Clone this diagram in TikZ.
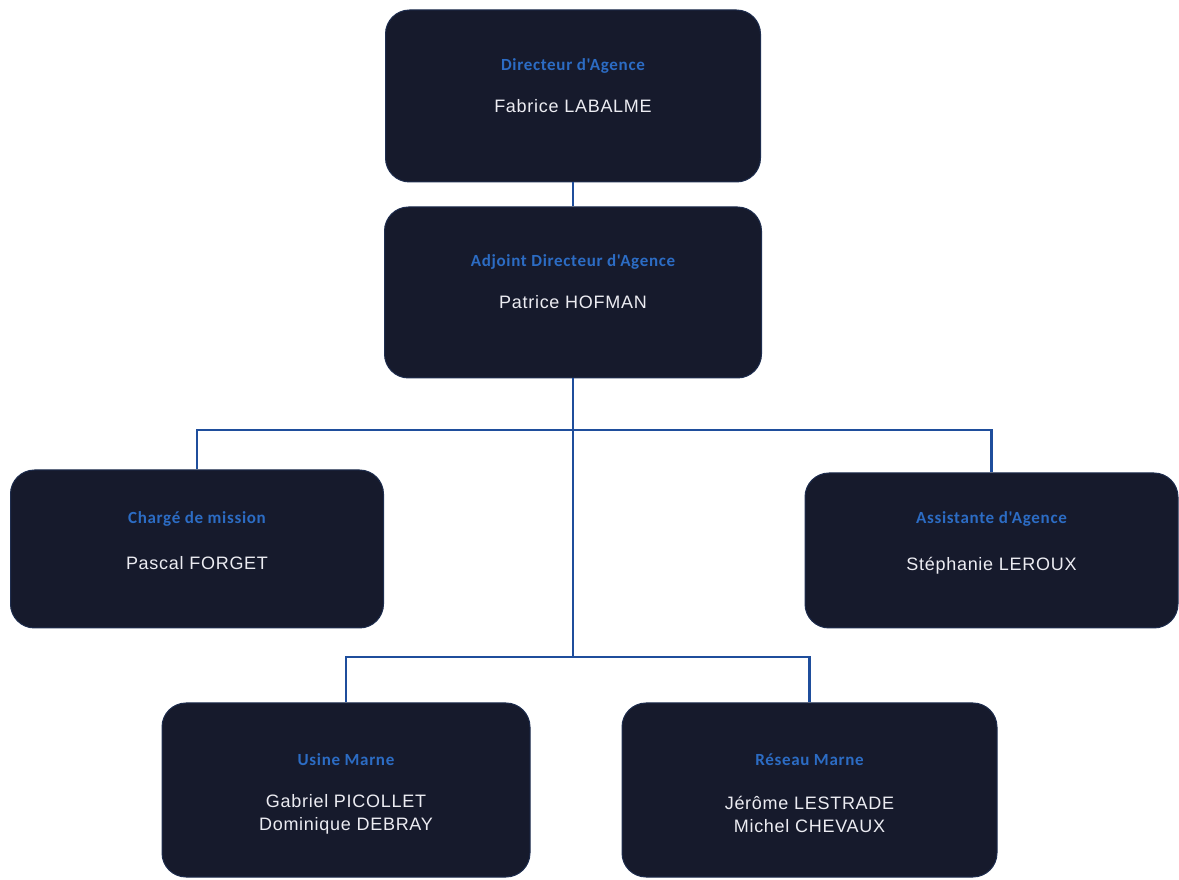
\documentclass[tikz,border=0pt]{standalone}
\usepackage{fontspec}
\setmainfont{Liberation Sans}[LetterSpace=4]
\newfontfamily\rolefont{Carlito}[LetterSpace=4]
\usetikzlibrary{positioning}
\definecolor{boxfill}{HTML}{161A2C}
\definecolor{boxline}{HTML}{1E2D4E}
\definecolor{rolecol}{HTML}{2C6CC4}
\definecolor{linkcol}{HTML}{1F4E9C}
\definecolor{namecol}{HTML}{ECECF2}
\tikzset{
  orgbox/.style={rectangle, rounded corners=24pt, fill=boxfill, draw=boxline, line width=1pt, inner sep=0pt},
  role/.style={text=rolecol, font=\rolefont\bfseries\fontsize{17}{19}\selectfont},
  person/.style={text=namecol, font=\fontsize{18}{23}\selectfont, align=center},
  link/.style={draw=linkcol, line width=2.2pt}
}
\begin{document}
\begin{tikzpicture}[x=1pt,y=1pt]
\useasboundingbox (0,0) rectangle (1179,879);

% boxes
\node[orgbox, minimum width=375pt, minimum height=172pt] (dir) at (573,783) {};
\node[orgbox, minimum width=377pt, minimum height=171pt] (adj) at (573,586.5) {};
\node[orgbox, minimum width=373pt, minimum height=158pt] (charge) at (197,330) {};
\node[orgbox, minimum width=373pt, minimum height=155pt] (assist) at (991.5,328.5) {};
\node[orgbox, minimum width=368pt, minimum height=174pt] (usine) at (346,89) {};
\node[orgbox, minimum width=375pt, minimum height=174pt] (reseau) at (809.5,89) {};

% texts
\node[role] (dirrole) at ([yshift=30pt]dir.center) {Directeur d'Agence};
\node[person] (dirname) at ([yshift=-10pt]dir.center) {Fabrice LABALME};
\node[role] (adjrole) at ([yshift=31pt]adj.center) {Adjoint Directeur d'Agence};
\node[person] (adjname) at ([yshift=-10pt]adj.center) {Patrice HOFMAN};
\node[role] (chargerole) at ([yshift=30pt]charge.center) {Chargé de mission};
\node[person] (chargename) at ([yshift=-14pt]charge.center) {Pascal FORGET};
\node[role] (assistrole) at ([yshift=32pt]assist.center) {Assistante d'Agence};
\node[person] (assistname) at ([yshift=-15pt]assist.center) {Stéphanie LEROUX};
\node[role] (usinerole) at ([yshift=30pt]usine.center) {Usine Marne};
\node[person] (usinename) at ([yshift=-24pt]usine.center) {Gabriel PICOLLET\\Dominique DEBRAY};
\node[role] (reseaurole) at ([yshift=30pt]reseau.center) {Réseau Marne};
\node[person] (reseauname) at ([yshift=-24pt]reseau.center) {Jérôme LESTRADE\\Michel CHEVAUX};

% connectors
\coordinate (bus1) at (573,449);
\coordinate (bus2) at (573,222);
\draw[link] (dir.south) -- (adj.north);
\draw[link] (adj.south) -- (bus2);
\draw[link] (charge.north) |- (bus1) -| (assist.north);
\draw[link] (usine.north) |- (bus2) -| (reseau.north);
\end{tikzpicture}
\end{document}
